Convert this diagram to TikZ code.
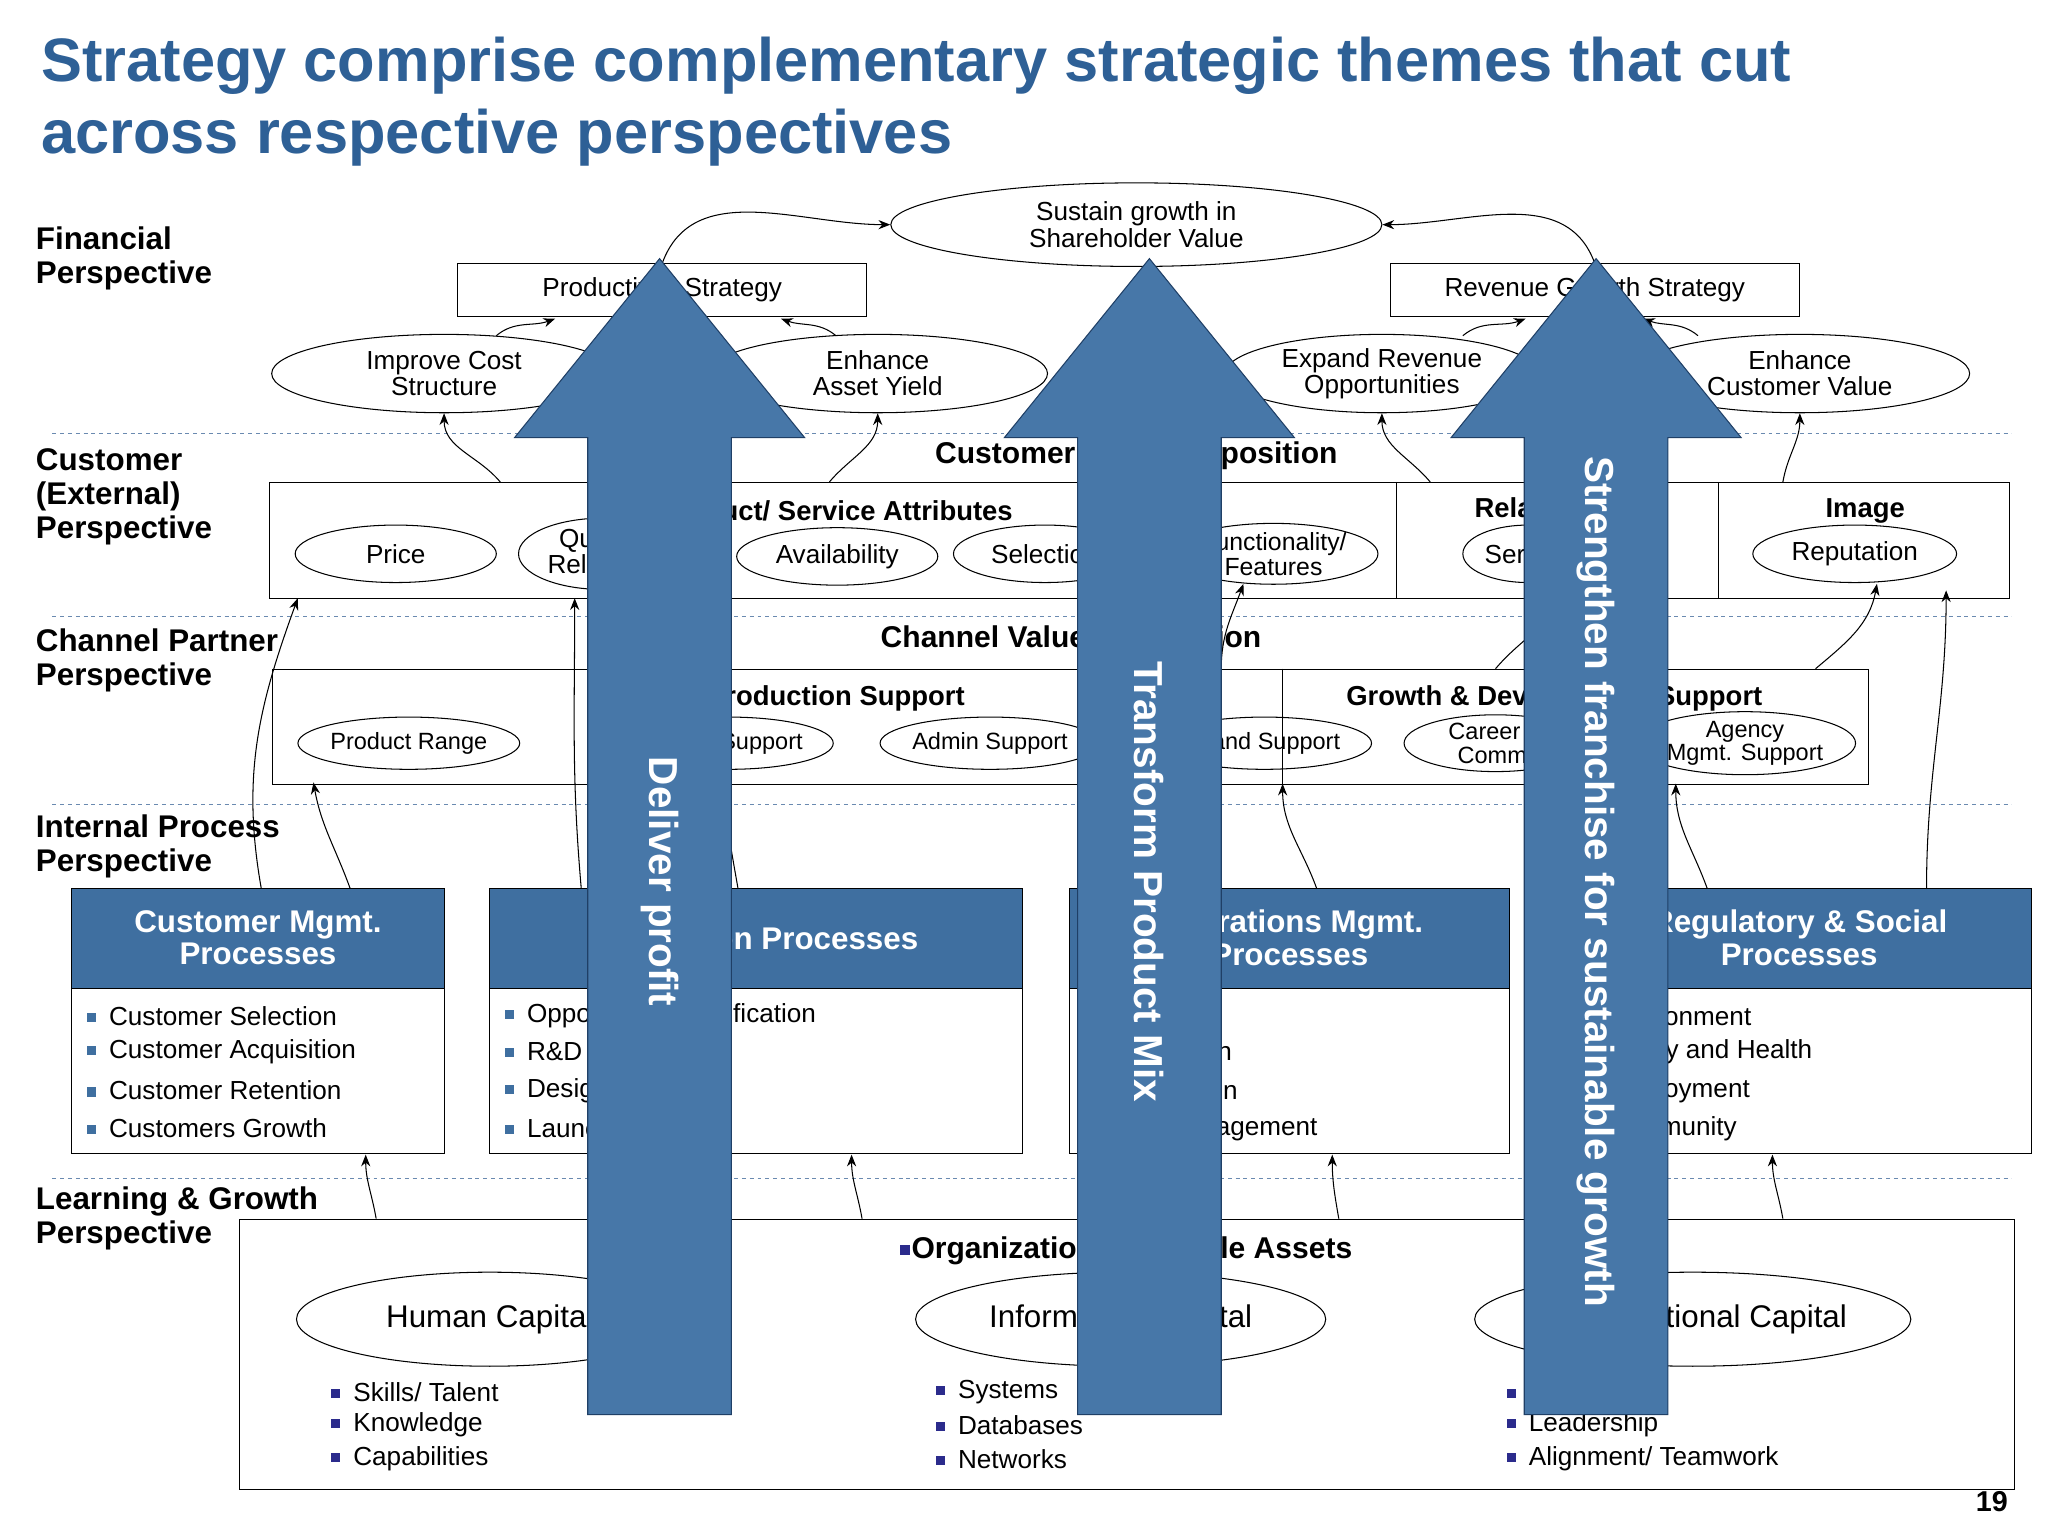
\documentclass[tikz,border=0pt]{standalone}
\usepackage{fontspec}
\setmainfont{Liberation Sans}
\usetikzlibrary{shapes.geometric,arrows.meta}
\definecolor{ttl}{HTML}{2E6096}
\definecolor{hdr}{HTML}{3F6FA0}
\definecolor{big}{HTML}{4777A8}
\definecolor{bigedge}{HTML}{1F3F66}
\definecolor{dashcol}{HTML}{6A8AB0}
\definecolor{bul}{HTML}{2B2B8C}
\definecolor{bul2}{HTML}{3F6FA0}
\tikzset{
 x=1pt,y=-1pt,
 ell/.style={draw,thick,ellipse,inner sep=0pt,align=center,font=\fontsize{20}{20}\selectfont},
 box/.style={draw,thick},
 con/.style={-{Stealth[length=9pt,width=7pt]},thick},
 persp/.style={anchor=north west,align=left,font=\fontsize{24}{26}\selectfont\bfseries},
 sub/.style={font=\fontsize{21}{22}\selectfont\bfseries},
 body/.style={anchor=west,font=\fontsize{20}{20}\selectfont},
 hd/.style={text=white,align=center,font=\fontsize{24}{25}\selectfont\bfseries},
 bigarrow/.style={fill=big,draw=bigedge,thick},
 bigtxt/.style={text=white,rotate=-90,font=\fontsize{31}{31}\selectfont\bfseries},
 dl/.style={dashed,draw=dashcol,thick}
}
\newcommand{\bsq}[1]{{\color{#1}\rule[0.25ex]{0.35em}{0.35em}}\hspace{0.5em}}
\begin{document}
\begin{tikzpicture}
\useasboundingbox (0,0) rectangle (1568,1176);
\fill[white] (0,0) rectangle (1568,1176);
% title
\node[anchor=west,text=ttl,font=\fontsize{47}{54}\selectfont\bfseries] (t1) at (28,50) {Strategy comprise complementary strategic themes that cut};
\node[anchor=west,text=ttl,font=\fontsize{47}{54}\selectfont\bfseries] (t2) at (28,105) {across respective perspectives};
% perspective labels
\node[persp] (p1) at (24,170) {Financial\\Perspective};
\node[persp] (p2) at (24,340) {Customer\\(External)\\Perspective};
\node[persp] (p3) at (24,478) {Channel Partner\\Perspective};
\node[persp] (p4) at (24,620) {Internal Process\\Perspective};
\node[persp] (p5) at (24,905) {Learning \& Growth\\Perspective};
% dashed
\foreach \yy in {332,472,616,902} \draw[dl] (40,\yy) -- (1540,\yy);
% financial
\node[ell,minimum width=376,minimum height=64] (sus) at (870,172) {Sustain growth in\\Shareholder Value};
\node[box,minimum width=313,minimum height=40,font=\fontsize{20}{20}\selectfont] (prod) at (507,222) {Productivity Strategy};
\node[box,minimum width=313,minimum height=40,font=\fontsize{20}{20}\selectfont] (rev) at (1221,222) {Revenue Growth Strategy};
\node[ell,minimum width=264,minimum height=60] (ics) at (340,286) {Improve Cost\\Structure};
\node[ell,minimum width=260,minimum height=60] (eay) at (672,286) {Enhance\\Asset Yield};
\node[ell,minimum width=240,minimum height=60] (ero) at (1058,286) {Expand Revenue\\Opportunities};
\node[ell,minimum width=260,minimum height=60] (ecv) at (1378,286) {Enhance\\Customer Value};
\draw[con] (prod.north) to[out=70,in=180] (sus.west);
\draw[con] (rev.north) to[out=110,in=0] (sus.east);
\draw[con] (380,257) to[out=40,in=200] (425,244);
\draw[con] (640,257) to[out=140,in=-20] (598,244);
\draw[con] (1120,257) to[out=40,in=200] (1168,244);
\draw[con] (1300,257) to[out=140,in=-20] (1258,244);
% customer
\node[font=\fontsize{23}{24}\selectfont\bfseries] (cvp) at (870,349) {Customer Value Proposition};
\node[box,minimum width=1332,minimum height=89,anchor=north west] (cbox) at (206,369) {};
\draw[thick] (1069,369) -- (1069,458) (1316,369) -- (1316,458);
\node[sub] (psa) at (640,391) {Product/ Service Attributes};
\node[sub] (rel) at (1192,391) {Relationship};
\node[sub] (img) at (1428,391) {Image};
\node[ell,minimum width=154,minimum height=44] (price) at (303,424) {Price};
\node[ell,minimum width=130,minimum height=44] (qual) at (462,424) {Quality/\\Reliability};
\node[ell,minimum width=154,minimum height=44] (avail) at (641,426) {Availability};
\node[ell,minimum width=140,minimum height=44] (sel) at (800,424) {Selection};
\node[ell,minimum width=160,minimum height=44,font=\fontsize{19}{19}\selectfont] (func) at (975,424) {Functionality/\\Features};
\node[ell,minimum width=100,minimum height=44] (serv) at (1170,424) {Service};
\node[ell,minimum width=156,minimum height=44] (rep) at (1420,424) {Reputation};
\draw[con] (383,369) to[out=130,in=-90] (ics.south);
\draw[con] (635,369) to[out=50,in=-90] (eay.south);
\draw[con] (1095,369) to[out=130,in=-90] (ero.south);
\draw[con] (1365,369) to[out=80,in=-90] (ecv.south);
% channel
\node[font=\fontsize{23}{24}\selectfont\bfseries] (chvp) at (820,490) {Channel Value Proposition};
\node[box,minimum width=1222,minimum height=88,anchor=north west] (chbox) at (208,512) {};
\draw[thick] (982,512) -- (982,600);
\node[sub] (ps) at (640,535) {Production Support};
\node[sub] (gds) at (1190,535) {Growth \& Development Support};
\node[ell,minimum width=156,minimum height=40,font=\fontsize{18}{18}\selectfont] (pr) at (313,569) {Product Range};
\node[ell,minimum width=130,minimum height=40,font=\fontsize{18}{18}\selectfont] (ss) at (558,569) {Sales Support};
\node[ell,minimum width=156,minimum height=40,font=\fontsize{18}{18}\selectfont] (ads) at (758,569) {Admin Support};
\node[ell,minimum width=150,minimum height=40,font=\fontsize{18}{18}\selectfont] (bs) at (968,569) {Brand Support};
\node[ell,minimum width=140,minimum height=40,font=\fontsize{18}{18}\selectfont] (cc) at (1145,569) {Career \&\\Comm.};
\node[ell,minimum width=140,minimum height=40,font=\fontsize{18}{18}\selectfont] (ams) at (1336,569) {Agency\\Mgmt. Support};
\draw[con] (1145,512) to[out=50,in=-100] (1195,447);
\draw[con] (1390,512) to[out=40,in=-100] (1437,447);
\draw[con] (935,512) to[out=90,in=-110] (952,447);
% internal process
\newcommand{\proc}[7]{%
 \fill[hdr] (#1,680) rectangle (#2,757);
 \draw[thick] (#1,680) rectangle (#2,883);
 \draw[thick] (#1,757) -- (#2,757);
 \node[hd] at ({(#1+#2)/2},718) {#3};
 \node[body] at (#1+8,778) {\bsq{bul2}#4};
 \node[body] at (#1+8,805) {\bsq{bul2}#5};
 \node[body] at (#1+8,835) {\bsq{bul2}#6};
 \node[body] at (#1+8,864) {\bsq{bul2}#7};}
\proc{55}{340}{Customer Mgmt.\\Processes}{Customer Selection}{Customer Acquisition}{Customer Retention}{Customers Growth}
\proc{375}{783}{Innovation Processes}{Opportunity Identification}{R\&D Portfolio}{Design/ Develop}{Launch}
\proc{819}{1156}{Operations Mgmt.\\Processes}{Supply}{Production}{Distribution}{Risk Management}
\proc{1200}{1555}{Regulatory \& Social\\Processes}{Environment}{Safety and Health}{Employment}{Community}
\draw[con] (200,680) to[out=100,in=-110] (228,458);
\draw[con] (268,680) to[out=110,in=-80] (240,599);
\draw[con] (445,680) to[out=95,in=-90] (440,458);
\draw[con] (565,680) to[out=100,in=-90] (555,590);
\draw[con] (1008,680) to[out=110,in=-90] (982,600);
\draw[con] (1307,680) to[out=110,in=-90] (1283,600);
\draw[con] (1475,680) to[out=90,in=-90] (1490,452);
% learning & growth
\node[box,minimum width=1359,minimum height=207,anchor=north west] (lg) at (183,933) {};
\node[font=\fontsize{23}{24}\selectfont\bfseries] (oia) at (862,958) {\bsq{bul}\hspace{-0.45em}Organization Intangible Assets};
\node[ell,minimum width=296,minimum height=72,font=\fontsize{24}{24}\selectfont] (hc) at (375,1010) {Human Capital};
\node[ell,minimum width=314,minimum height=72,font=\fontsize{24}{24}\selectfont] (ic) at (858,1010) {Information Capital};
\node[ell,minimum width=314,minimum height=72,font=\fontsize{24}{24}\selectfont] (oc) at (1296,1010) {Organizational Capital};
\node[body] (h1) at (250,1066) {\bsq{bul}Skills/ Talent};
\node[body] (h2) at (250,1091) {\bsq{bul}Knowledge};
\node[body] (h3) at (250,1117) {\bsq{bul}Capabilities};
\node[body] (i1) at (713,1066) {\bsq{bul}Systems};
\node[body] (i2) at (713,1091) {\bsq{bul}Databases};
\node[body] (i3) at (713,1117) {\bsq{bul}Networks};
\node[body] (o1) at (1150,1066) {\bsq{bul}Culture};
\node[body] (o2) at (1150,1091) {\bsq{bul}Leadership};
\node[body] (o3) at (1150,1117) {\bsq{bul}Alignment/ Teamwork};
\draw[con] (288,933) to[out=100,in=-90] (280,884);
\draw[con] (660,933) to[out=100,in=-90] (652,884);
\draw[con] (1025,933) to[out=100,in=-90] (1020,884);
\draw[con] (1365,933) to[out=100,in=-90] (1357,884);
% big arrows
\foreach \cx in {505,880,1222}{
 \draw[bigarrow] (\cx-55,1083) -- (\cx-55,335) -- (\cx-111,335) -- (\cx,198) -- (\cx+111,335) -- (\cx+55,335) -- (\cx+55,1083) -- cycle;}
\node[bigtxt] (d1) at (505,675) {Deliver profit};
\node[bigtxt] (d2) at (880,675) {Transform Product Mix};
\node[bigtxt] (d3) at (1222,675) {Strengthen franchise for sustainable growth};
\node[font=\fontsize{22}{22}\selectfont\bfseries] (pg) at (1525,1150) {19};
\end{tikzpicture}
\end{document}
